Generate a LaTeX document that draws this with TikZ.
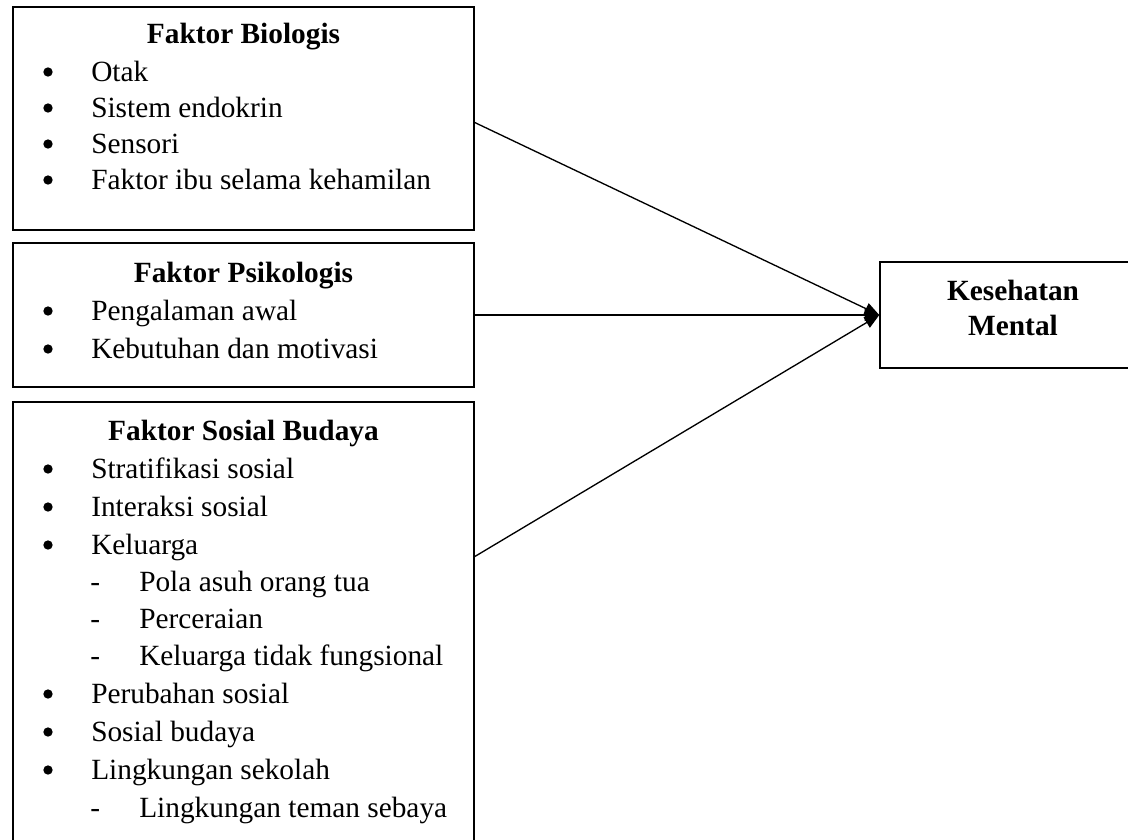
\documentclass[tikz,border=0pt]{standalone}
\usepackage{fontspec}
\setmainfont{Liberation Serif}
\usetikzlibrary{arrows.meta}
\newcommand{\diagfont}{\fontsize{22}{26}\selectfont}
\tikzset{
  box/.style={draw, line width=1.1pt, inner sep=0pt},
  head/.style={anchor=base, inner sep=0.75pt, font=\diagfont\bfseries},
  item/.style={anchor=base west, inner sep=0.75pt, font=\diagfont},
  dot/.style={circle, fill, inner sep=0pt, minimum size=7pt},
  link/.style={line width=1pt, -{Triangle[length=11pt,width=9pt]}}
}

\begin{document}
\begin{tikzpicture}[x=0.75pt,y=0.75pt,yscale=-1,xscale=1]
\useasboundingbox (0,0) rectangle (1128,839);

%Shape: Rectangle [Faktor Biologis]
\node [box, minimum width=345.75pt, minimum height=167.25pt] (bio) at (243.5,118.5) {};
%Shape: Rectangle [Faktor Psikologis]
\node [box, minimum width=345.75pt, minimum height=108pt] (psi) at (243.5,315) {};
%Shape: Rectangle [Faktor Sosial Budaya]
\node [box, minimum width=345.75pt, minimum height=351pt] (sos) at (243.5,636) {};
%Shape: Rectangle [Kesehatan Mental]
\node [box, minimum width=199.5pt, minimum height=79.5pt] (mental) at (1013,315) {};

% Text Node
\draw (243.5,43) node [head] (bioT) {Faktor Biologis};
\draw (48,72) node [dot] (bioB1) {};
\draw (90,81) node [item] (bio1) {Otak};
\draw (48,108) node [dot] (bioB2) {};
\draw (90,117) node [item] (bio2) {Sistem endokrin};
\draw (48,144) node [dot] (bioB3) {};
\draw (90,153) node [item] (bio3) {Sensori};
\draw (48,180) node [dot] (bioB4) {};
\draw (90,189) node [item] (bio4) {Faktor ibu selama kehamilan};

% Text Node
\draw (243.5,282) node [head] (psiT) {Faktor Psikologis};
\draw (48,311) node [dot] (psiB1) {};
\draw (90,320) node [item] (psi1) {Pengalaman awal};
\draw (48,349) node [dot] (psiB2) {};
\draw (90,358) node [item] (psi2) {Kebutuhan dan motivasi};

% Text Node
\draw (243.5,440) node [head] (sosT) {Faktor Sosial Budaya};
\draw (48,469) node [dot] (sosB1) {};
\draw (90,478) node [item] (sos1) {Stratifikasi sosial};
\draw (48,507) node [dot] (sosB2) {};
\draw (90,516) node [item] (sos2) {Interaksi sosial};
\draw (48,545) node [dot] (sosB3) {};
\draw (90,554) node [item] (sos3) {Keluarga};
\draw (89,591) node [item] (sosD1) {-};
\draw (138,591) node [item] (sos3a) {Pola asuh orang tua};
\draw (89,628) node [item] (sosD2) {-};
\draw (138,628) node [item] (sos3b) {Perceraian};
\draw (89,665) node [item] (sosD3) {-};
\draw (138,665) node [item] (sos3c) {Keluarga tidak fungsional};
\draw (48,694) node [dot] (sosB4) {};
\draw (90,703) node [item] (sos4) {Perubahan sosial};
\draw (48,732) node [dot] (sosB5) {};
\draw (90,741) node [item] (sos5) {Sosial budaya};
\draw (48,770) node [dot] (sosB6) {};
\draw (90,779) node [item] (sos6) {Lingkungan sekolah};
\draw (89,817) node [item] (sosD4) {-};
\draw (138,817) node [item] (sos6a) {Lingkungan teman sebaya};

% Text Node
\draw (1013,300) node [head] (mentalT1) {Kesehatan};
\draw (1013,335) node [head] (mentalT2) {Mental};

%Straight Lines
\coordinate (sosout) at (474,557);
\draw [link] ([yshift=3pt]bio.east) -- (mental.west);
\draw [link] (psi.east) -- (mental.west);
\draw [link] (sosout) -- (mental.west);

\end{tikzpicture}
\end{document}
